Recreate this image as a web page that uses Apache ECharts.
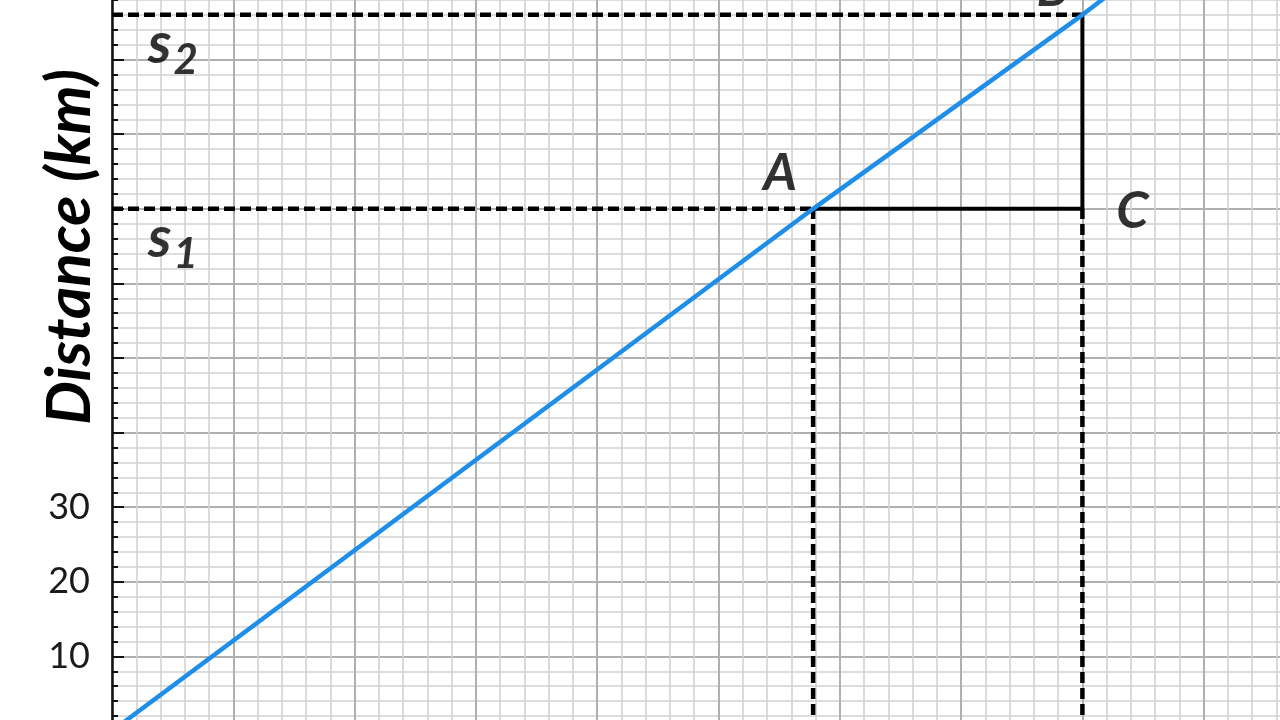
<!DOCTYPE html>
<html>
<head>
<meta charset="utf-8">
<title>Distance - time graph</title>
<script src="https://cdn.jsdelivr.net/npm/echarts@6/dist/echarts.min.js"></script>
<style>
html, body { margin: 0; padding: 0; background: #fff; overflow: hidden; width: 1280px; height: 720px; }
/* the paper runs past the photo on the right, top and bottom */
#main { position: absolute; left: 0; top: -15px; width: 1325px; height: 746px; }
</style>
</head>
<body>
<div id="main"></div>
<script>
// values: time on x, distance (km) on y
var timeVals = [0, 57.8, 80, 82];
var distVals = [0, 70, 96, 98.5];
var yTickLabels = [10, 20, 30];
var pointA = [57.8, 70];
var pointB = [80, 96];
var pointC = [80, 70];
var s1 = 70;
var s2 = 96;

var font = 'Lato, "Open Sans", sans-serif';
var myChart = echarts.init(document.getElementById('main'));

var lineData = [];
for (var i = 0; i < timeVals.length; i++) {
    lineData.push([timeVals[i], distVals[i]]);
}

var dashed = { type: [11, 5], color: '#000', width: 4.5 };
var solid = { type: 'solid', color: '#000', width: 4 };

function seg(data, style) {
    return {
        type: 'line', data: data, symbol: 'none', silent: true, z: 4,
        lineStyle: style
    };
}

var letter = { fontSize: 52, fontWeight: 'bold', fontStyle: 'italic', fontFamily: font, color: '#000' };

function sLabel(sub) {
    return {
        show: true, position: [36, 1], align: 'left', verticalAlign: 'top',
        formatter: '{s|s}{sub|' + sub + '}',
        rich: {
            s: { fontSize: 58, lineHeight: 56, verticalAlign: 'top', fontWeight: 'bold', fontStyle: 'italic', fontFamily: font, color: '#000' },
            sub: { fontSize: 42, lineHeight: 40, verticalAlign: 'top', padding: [24, 0, 0, 2], fontWeight: 'bold', fontStyle: 'italic', fontFamily: font, color: '#000' }
        }
    };
}

var option = {
    backgroundColor: '#fff',
    animation: false,
    grid: { left: 112, right: 0, top: 0, bottom: 0 },
    xAxis: {
        type: 'value', min: 0, max: 100, interval: 10,
        axisLine: { show: false }, axisTick: { show: false }, axisLabel: { show: false },
        splitLine: { show: true, lineStyle: { color: '#b0b0b0', width: 2 } },
        minorTick: { show: false, splitNumber: 5 },
        minorSplitLine: { show: true, lineStyle: { color: '#d2d2d2', width: 1.6 } }
    },
    yAxis: {
        type: 'value', min: 0, max: 100, interval: 10,
        axisLine: { show: true, onZero: false, lineStyle: { color: '#111', width: 2.5 } },
        axisTick: { show: true, inside: true, length: 12, lineStyle: { color: '#111', width: 2 } },
        minorTick: { show: true, splitNumber: 5, length: 6, lineStyle: { color: '#111', width: 2 } },
        axisLabel: {
            margin: 22, fontSize: 36, color: '#1a1a1a', fontFamily: font,
            formatter: function (v) { return yTickLabels.indexOf(v) >= 0 ? String(v) : ''; }
        },
        splitLine: { show: true, lineStyle: { color: '#b0b0b0', width: 2 } },
        minorSplitLine: { show: true, lineStyle: { color: '#d2d2d2', width: 1.6 } }
    },
    graphic: [{
        type: 'text', x: 70, y: 262, rotation: Math.PI / 2,
        style: {
            text: 'Distance (km)', fill: '#000', align: 'center', verticalAlign: 'middle',
            font: 'italic bold 62px ' + font
        }
    }],
    series: [
        seg([[0, s1], pointA], dashed),
        seg([[0, s2], pointB], dashed),
        seg([[pointA[0], 0], pointA], dashed),
        seg([[pointC[0], 0], pointC], dashed),
        seg([pointA, pointC, pointB], solid),
        {
            type: 'line', data: lineData, symbol: 'none', z: 5,
            lineStyle: { color: '#1e8ee8', width: 4.5 }
        },
        {
            type: 'scatter', symbolSize: 0.1, itemStyle: { color: 'rgba(0,0,0,0)' }, z: 6,
            data: [
                { value: pointA, label: Object.assign({ show: true, position: 'inside', offset: [-33, -36], formatter: 'A' }, letter) },
                { value: pointB, label: Object.assign({ show: true, position: 'inside', offset: [-30, -26], formatter: 'B' }, letter) },
                { value: pointC, label: Object.assign({ show: true, position: 'inside', offset: [50, 2], formatter: 'C' }, letter) },
                { value: [0, s1], label: sLabel('1') },
                { value: [0, s2], label: sLabel('2') }
            ]
        }
    ]
};
myChart.setOption(option);
</script>
</body>
</html>
